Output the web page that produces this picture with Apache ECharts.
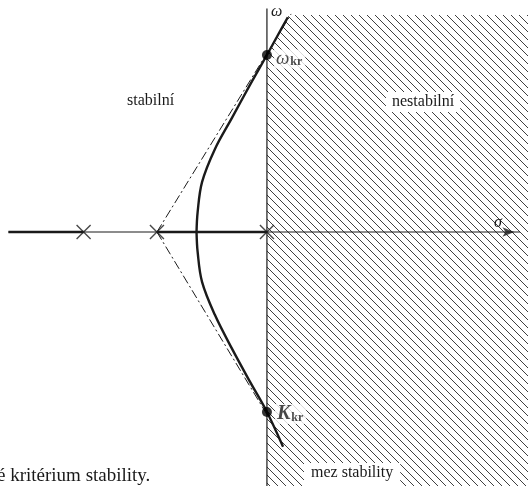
<!DOCTYPE html>
<html><head><meta charset="utf-8">
<script src="https://cdn.jsdelivr.net/npm/echarts@6/dist/echarts.min.js"></script>
<style>html,body{margin:0;padding:0;background:#fff}#c{width:528px;height:486px}</style>
</head><body><div id="c"></div>
<script>
// ---- data (units: real part sigma, imaginary part omega) ----
const poles = [-5, -3, 0];
const upperLocus = [[-1.92,0],[-1.89,0.545],[-1.77,1.36],[-1.42,2.26],[-0.95,3.12],[-0.47,4.0],[0,4.83],[0.33,5.43],[0.57,5.86]];
const lowerLocus = [[-1.92,0],[-1.89,-0.545],[-1.77,-1.36],[-1.42,-2.26],[-0.95,-3.19],[-0.46,-4.09],[0,-4.91],[0.44,-5.86]];
const realLocusLeft = [[-7.05,0],[-5,0]];
const realLocusMid = [[-3,0],[0,0]];
const asymptoteUp = [[-3,0],[0.66,5.95]];
const asymptoteDown = [[-3,0],[0,-4.98]];
const critUpper = [0, 4.83];
const critLower = [0, -4.91];
const realAxis = [[-7.05,0],[6.9,0]];
const imagAxis = [[0,6.1],[0,-6.93]];
const unstableRegion = [[0,4.83],[0.33,5.43],[0.6,5.92],[7.2,5.92],[7.2,-7.0],[0,-7.0]];
const xRange = [-7.28, 7.12];
const yRange = [-6.93, 6.33];

const serif = '"Liberation Serif","DejaVu Serif",serif';
const ink = '#1a1a1a';

// hatch pattern
const S = 8;
const pc = document.createElement('canvas');
pc.width = S; pc.height = S;
const g = pc.getContext('2d');
g.strokeStyle = '#2a2a2a'; g.lineWidth = 0.9;
for (const o of [-S, 0, S]) { g.beginPath(); g.moveTo(o - 1, -1); g.lineTo(o + S + 1, S + 1); g.stroke(); }

const chart = echarts.init(document.getElementById('c'), null, {renderer: 'canvas'});
const lineS = (data, w, type, z) => ({type: 'line', data, symbol: 'none', silent: true, z: z || 3,
  lineStyle: {color: ink, width: w, type: type || 'solid'}, animation: false});

chart.setOption({
  animation: false,
  grid: {left: 0, right: 0, top: 0, bottom: 0},
  xAxis: {type: 'value', min: xRange[0], max: xRange[1], show: false},
  yAxis: {type: 'value', min: yRange[0], max: yRange[1], show: false},
  series: [
    {type: 'custom', silent: true, z: 1, data: [0],
     renderItem: (p, api) => ({type: 'polygon',
       shape: {points: unstableRegion.map(pt => api.coord(pt))},
       style: {fill: {image: pc, repeat: 'repeat'}, stroke: 'none'}})},
    lineS(realAxis, 1.2),
    lineS(imagAxis, 1.2),
    lineS(realLocusLeft, 2.4),
    lineS(realLocusMid, 2.4),
    lineS(asymptoteUp, 1, [9, 3, 2, 3]),
    lineS(asymptoteDown, 1, [9, 3, 2, 3]),
    Object.assign(lineS(upperLocus, 2.4), {smooth: 0.35}),
    Object.assign(lineS(lowerLocus, 2.4), {smooth: 0.35}),
    {type: 'scatter', z: 5, data: poles.map(p => [p, 0]), symbol: 'path://M0,0L10,10M10,0L0,10',
     symbolSize: 14, itemStyle: {color: 'none', borderColor: ink, borderWidth: 1.4}},
    {type: 'scatter', z: 6, data: [critUpper], symbolSize: 10, itemStyle: {color: '#000'},
     label: {show: true, position: 'right', distance: 2, offset: [0, 4],
       formatter: '{w|ω}{s|kr}', backgroundColor: '#fff', padding: [0, 3, 0, 2],
       rich: {w: {fontFamily: serif, fontStyle: 'italic', fontSize: 19, color: ink},
              s: {fontFamily: serif, fontWeight: 'bold', fontSize: 12, color: ink, padding: [6, 0, 0, 1]}}}},
    {type: 'scatter', z: 6, data: [critLower], symbolSize: 10, itemStyle: {color: '#000'},
     label: {show: true, position: 'right', distance: 3, offset: [0, 2],
       formatter: '{k|K}{s|kr}', backgroundColor: '#fff', padding: [0, 3, 0, 2],
       rich: {k: {fontFamily: serif, fontStyle: 'italic', fontWeight: 'bold', fontSize: 20, color: ink},
              s: {fontFamily: serif, fontWeight: 'bold', fontSize: 12, color: ink, padding: [7, 0, 0, 1]}}}},
    {type: 'scatter', z: 6, data: [[realAxis[1][0] - 0.15, 0]], symbol: 'arrow', symbolRotate: -90,
     symbolSize: [7, 12], itemStyle: {color: ink}}
  ],
  graphic: [
    {type: 'text', left: 271, top: 4, z: 10, style: {text: 'ω', font: 'italic 16px ' + serif, fill: ink}},
    {type: 'text', left: 494, top: 215, z: 10, style: {text: 'σ', font: 'italic 16px ' + serif, fill: ink}},
    {type: 'text', left: 127, top: 93, z: 10, style: {text: 'stabilní', font: '16px ' + serif, fill: ink}},
    {type: 'text', left: 386, top: 92, z: 10, style: {text: 'nestabilní', font: '16px ' + serif, fill: ink,
      backgroundColor: '#fff', padding: [2, 6, 2, 6]}},
    {type: 'text', left: 304, top: 463, z: 10, style: {text: 'mez stability', font: '16px ' + serif, fill: ink,
      backgroundColor: '#fff', padding: [2, 7, 6, 7]}},
    {type: 'text', left: -3, top: 467, z: 10, style: {text: 'é kritérium stability.', font: '19px ' + serif, fill: ink}}
  ]
});
</script></body></html>
